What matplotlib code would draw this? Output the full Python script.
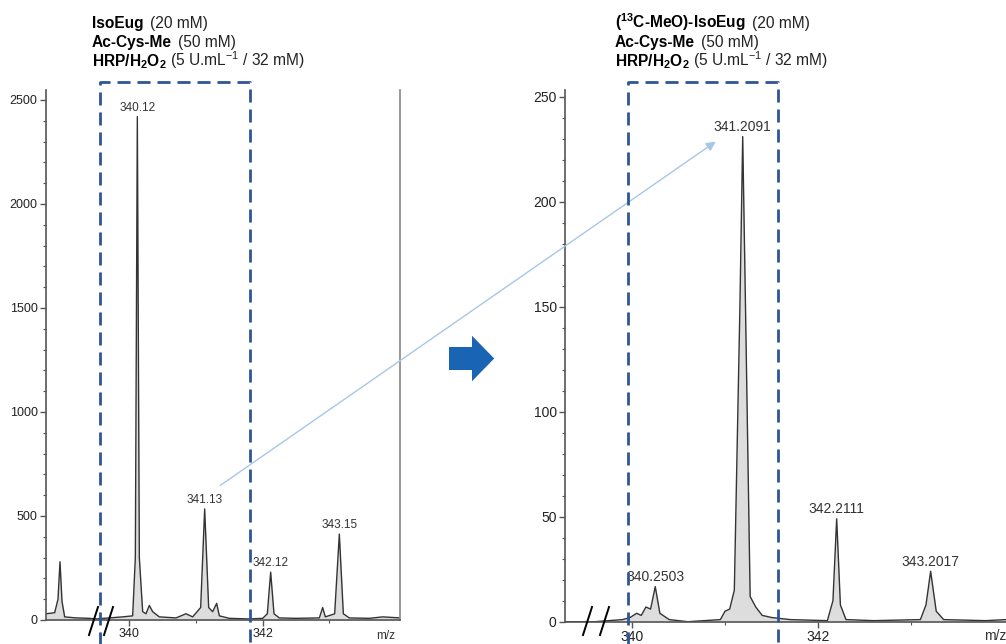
import numpy as np
import matplotlib
matplotlib.use("Agg")
import matplotlib.pyplot as plt
from matplotlib.patches import FancyArrow, FancyArrowPatch
from matplotlib.lines import Line2D

plt.rcParams["font.family"] = ["Liberation Sans", "DejaVu Sans"]
plt.rcParams["mathtext.fontset"] = "custom"
plt.rcParams["mathtext.rm"] = "Liberation Sans"
plt.rcParams["mathtext.bf"] = "Liberation Sans:bold"
plt.rcParams["mathtext.it"] = "Liberation Sans:italic"

# ---- data ----
# left spectrum (IsoEug), m/z vs intensity
left_mz = [338.75, 338.88, 338.93, 338.96, 338.99, 339.03, 339.2, 339.4, 339.5, 339.7,
           339.9, 340.05, 340.09, 340.12, 340.15, 340.2, 340.25, 340.3, 340.35, 340.45,
           340.7, 340.85, 340.95, 341.07, 341.13, 341.19, 341.25, 341.31, 341.35, 341.5,
           341.8, 342.0, 342.07, 342.12, 342.17, 342.25, 342.5, 342.85, 342.9, 342.94,
           343.08, 343.15, 343.21, 343.3, 343.6, 343.8, 344.06]
left_int = [30, 35, 100, 280, 90, 15, 10, 8, 5, 10,
            15, 20, 300, 2420, 300, 40, 30, 70, 40, 15,
            10, 30, 15, 60, 534, 60, 40, 80, 20, 8,
            5, 8, 30, 230, 30, 10, 8, 10, 60, 15,
            30, 413, 30, 10, 8, 15, 10]
left_labels = ["340.12", "341.13", "342.12", "343.15"]
left_label_mz = [340.12, 341.13, 342.12, 343.15]
left_label_int = [2420, 534, 230, 413]

# right spectrum (13C-MeO IsoEug)
right_mz = [339.28, 339.6, 339.9, 339.98, 340.05, 340.1, 340.15, 340.2, 340.25, 340.3,
            340.4, 340.6, 340.95, 341.0, 341.05, 341.1, 341.16, 341.19, 341.22, 341.27,
            341.33, 341.4, 341.5, 341.7, 342.1, 342.16, 342.2, 342.24, 342.3, 342.6,
            343.1, 343.16, 343.21, 343.27, 343.35, 343.8, 344.02]
right_int = [0, 0, 1, 2, 4, 3, 7, 6, 16.7, 4,
             1, 0, 1, 5, 6, 15, 150, 231, 150, 12,
             7, 3, 2, 1, 0.5, 10, 49, 8, 1, 0.5,
             1, 8, 24, 5, 1, 0.5, 1]
right_labels = ["340.2503", "341.2091", "342.2111", "343.2017"]
right_label_mz = [340.25, 341.19, 342.2, 343.21]
right_label_int = [16.7, 231, 49, 24]

left_bold = ["IsoEug", "Ac-Cys-Me", r"$\mathbf{HRP/H_2O_2}$"]
right_bold = [r"($\mathbf{^{13}}$C-MeO)-IsoEug", "Ac-Cys-Me", r"$\mathbf{HRP/H_2O_2}$"]
conditions = ["(20 mM)", "(50 mM)", r"(5 U.mL$^{-1}$ / 32 mM)"]

W, H = 1006, 644
fig = plt.figure(figsize=(W / 100, H / 100), dpi=100)


def fx(px):
    return px / W


def fy(py):
    return 1 - py / H


def setup(ax, tick_fs):
    ax.spines["top"].set_visible(False)
    for s in ["left", "bottom", "right"]:
        ax.spines[s].set_color("#555555")
        ax.spines[s].set_linewidth(1.2)
    ax.spines["right"].set_color("#888888")
    ax.tick_params(axis="both", which="major", direction="out", length=4,
                   width=1, colors="#555555", labelcolor="#222222", labelsize=tick_fs, pad=2)
    ax.tick_params(axis="both", which="minor", direction="out", length=2,
                   width=0.8, colors="#555555")
    ax.set_xticks([340, 342])
    ax.set_xticks([341, 343], minor=True)


# left panel
axL = fig.add_axes([fx(46), fy(620), fx(400) - fx(46), fy(90) - fy(620)])
axL.plot(left_mz, left_int, color="#333333", lw=1.0)
axL.fill_between(left_mz, 0, left_int, color="#dddddd", lw=0)
axL.set_xlim(338.75, 344.06)
axL.set_ylim(0, 2548)
setup(axL, 9)
axL.set_yticks(np.arange(0, 2501, 500))
axL.set_yticks(np.arange(0, 2501, 100), minor=True)
for lab, m, v in zip(left_labels, left_label_mz, left_label_int):
    axL.annotate(lab, (m, v), xytext=(0, 2), textcoords="offset points",
                 ha="center", va="bottom", fontsize=8.5, color="#333333")

# right panel
axR = fig.add_axes([fx(565), fy(621.7), fx(1006) - fx(565), fy(90) - fy(621.7)])
axR.plot(right_mz, right_int, color="#333333", lw=1.0)
axR.fill_between(right_mz, 0, right_int, color="#dddddd", lw=0)
axR.set_xlim(339.28, 344.02)
axR.set_ylim(0, 253.2)
setup(axR, 10)
axR.spines["right"].set_visible(False)
axR.set_yticks(np.arange(0, 251, 50))
axR.set_yticks(np.arange(0, 251, 10), minor=True)
for lab, m, v in zip(right_labels, right_label_mz, right_label_int):
    axR.annotate(lab, (m, v), xytext=(0, 2), textcoords="offset points",
                 ha="center", va="bottom", fontsize=10, color="#333333")

# m/z labels
fig.text(fx(376), fy(636), "m/z", fontsize=8.5, color="#333333", va="center")
fig.text(fx(984), fy(636), "m/z", fontsize=10, color="#333333", va="center")

# axis break marks "//"
for x0 in [89, 104, 583, 600]:
    fig.add_artist(Line2D([fx(x0), fx(x0 + 9)], [fy(635), fy(607)],
                          color="black", lw=1.4))

# dashed selection boxes
box_col = "#2f5597"
for x0, x1 in [(100, 250), (628, 778)]:
    fig.add_artist(Line2D([fx(x0), fx(x0), fx(x1), fx(x1)],
                          [fy(650), fy(82), fy(82), fy(650)],
                          color=box_col, lw=2, dashes=(4.7, 2.5)))

# thin light-blue arrow between the panels
fig.add_artist(FancyArrowPatch(
    (fx(218), fy(487)), (fx(718), fy(140)), transform=fig.transFigure,
    arrowstyle="-|>", mutation_scale=14, color="#a7c7e7", lw=1.0))

# big blue arrow with radial shading
arrow = FancyArrow(fx(449), fy(358.5), fx(494) - fx(449), 0,
                   width=fy(347) - fy(370), head_width=fy(336) - fy(381),
                   head_length=fx(494) - fx(472), length_includes_head=True,
                   transform=fig.transFigure, color="#1a64b4", lw=0)
fig.add_artist(arrow)
gax = fig.add_axes([fx(447), fy(383), fx(496) - fx(447), fy(334) - fy(383)])
gax.set_axis_off()
yy, xx = np.mgrid[-1:1:100j, -1:1:100j]
rr = np.clip(np.sqrt(xx ** 2 + yy ** 2), 0, 1)
cmap = matplotlib.colors.LinearSegmentedColormap.from_list("b", ["#082f5e", "#1660b0", "#2a7fd6"])
img = gax.imshow(rr, cmap=cmap, extent=[0, 1, 0, 1], aspect="auto")
img.set_clip_path(arrow)

# reagent text blocks
renderer = fig.canvas.get_renderer()


def reagent_block(x, y, bold_lines, normal_lines, fs=11.2):
    lh = 19
    gaps = [6, 6, 3]
    for i, (b, n) in enumerate(zip(bold_lines, normal_lines)):
        t = fig.text(fx(x), fy(y + i * lh), b, fontsize=fs, fontweight="bold",
                     va="baseline", color="black")
        bb = t.get_window_extent(renderer)
        fig.text((bb.x1 + gaps[i]) / W, fy(y + i * lh), n, fontsize=fs,
                 va="baseline", color="#222222")


reagent_block(92, 28, left_bold, conditions)
reagent_block(615, 28, right_bold, conditions)

fig.savefig("out.png", dpi=100)
